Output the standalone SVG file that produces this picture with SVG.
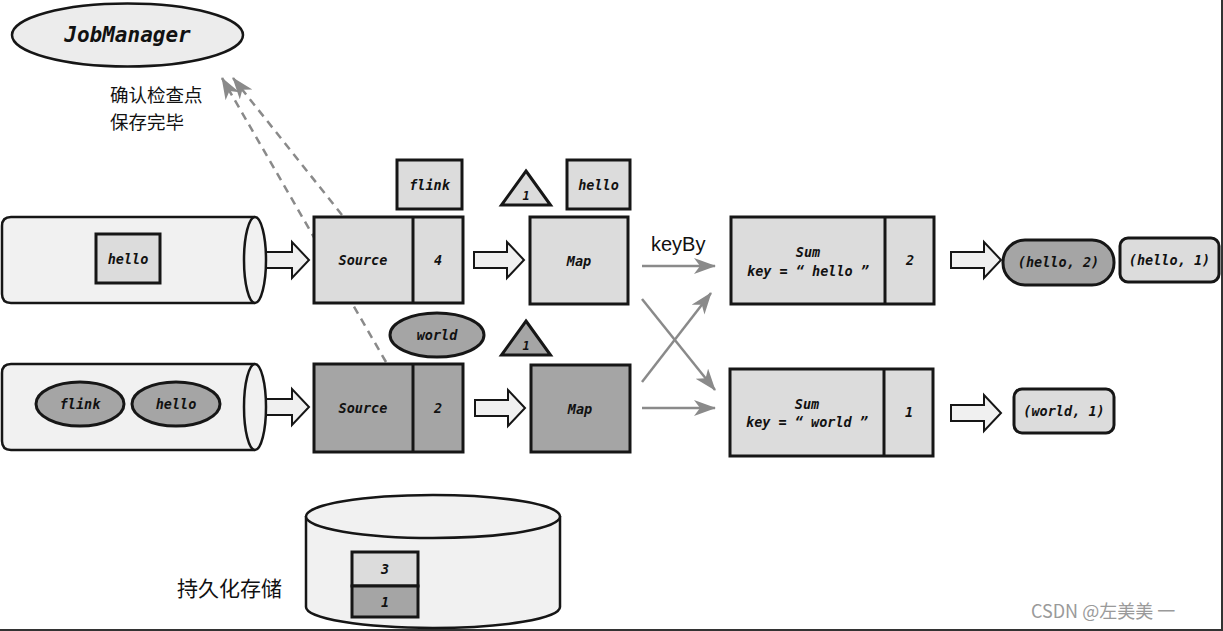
<svg xmlns="http://www.w3.org/2000/svg" width="1223" height="631" viewBox="0 0 1223 631">
<style>
.t{font-family:"DejaVu Sans Mono","Liberation Mono",monospace;font-style:italic;font-weight:bold;font-size:13.5px;fill:#111;text-anchor:middle;dominant-baseline:central}
.cn{font-family:"Noto Sans CJK SC","Noto Sans",sans-serif;font-size:20px;fill:#111}
.lt{fill:#dcdcdc;stroke:#161616;stroke-width:3}
.dk{fill:#a5a5a5;stroke:#161616;stroke-width:3}
.cyl{fill:#f1f1f1;stroke:#161616;stroke-width:2.5}
.ba{fill:#f0f0f0;stroke:#161616;stroke-width:2}
.ga{stroke:#8a8a8a;stroke-width:2.5;fill:none;marker-end:url(#gh)}
.da{stroke:#8a8a8a;stroke-width:2.5;fill:none;stroke-dasharray:8 6;marker-end:url(#gh)}
</style>
<defs>
<marker id="gh" markerUnits="userSpaceOnUse" markerWidth="24" markerHeight="18" refX="21" refY="8" orient="auto">
<path d="M0,0 L22,8 L0,16 L6,8 Z" fill="#8a8a8a"/>
</marker>
<path id="barrow" d="M0,-8 H33 V-18 L50,0 L33,18 V8 H0 Z"/>
</defs>

<g id="border">
<line x1="1222" y1="0" x2="1222" y2="631" stroke="#333" stroke-width="2"/>
<line x1="0" y1="630" x2="1223" y2="630" stroke="#333" stroke-width="2"/>
</g>

<g id="jobmanager">
<ellipse cx="127.5" cy="35" rx="115.5" ry="31.5" fill="#ececec" stroke="#161616" stroke-width="2.5"/>
<text class="t" x="127.5" y="35" style="font-size:21px">JobManager</text>
</g>
<g id="ack-label">
<text class="cn" x="110" y="102" style="font-size:18.5px">确认检查点</text>
<text class="cn" x="110" y="129" style="font-size:18.5px">保存完毕</text>
</g>

<g id="connectors">
<path class="da" d="M342,215 L233,78"/>
<path class="da" d="M386,362 L222,78"/>
<path class="ga" d="M642,266 H715"/>
<path class="ga" d="M642,299 L715,390"/>
<path class="ga" d="M642,382 L711,293"/>
<path class="ga" d="M642,408 H715"/>
<use href="#barrow" class="ba" transform="translate(259,260)"/>
<use href="#barrow" class="ba" transform="translate(259,407)"/>
<use href="#barrow" class="ba" transform="translate(474,260)"/>
<use href="#barrow" class="ba" transform="translate(475,408)"/>
<use href="#barrow" class="ba" transform="translate(951,260)"/>
<use href="#barrow" class="ba" transform="translate(951,413)"/>
</g>

<g id="input1">
<path class="cyl" d="M255,217 H11 Q2,217 2,226 V294 Q2,303 11,303 H255"/>
<ellipse class="cyl" cx="255" cy="260" rx="11" ry="43"/>
<rect class="lt" x="96" y="234" width="64" height="49"/>
<text class="t" x="128" y="258.5">hello</text>
</g>

<g id="input2">
<path class="cyl" d="M255,364 H11 Q2,364 2,373 V441 Q2,450 11,450 H255"/>
<ellipse class="cyl" cx="255" cy="407" rx="11" ry="43"/>
<ellipse class="dk" cx="80" cy="404" rx="44" ry="22" stroke-width="2.5"/>
<text class="t" x="80" y="404">flink</text>
<ellipse class="dk" cx="176" cy="404" rx="44" ry="22" stroke-width="2.5"/>
<text class="t" x="176" y="404">hello</text>
</g>

<g id="source1">
<rect class="lt" x="314" y="217" width="149" height="86"/>
<line x1="413" y1="217" x2="413" y2="303" stroke="#161616" stroke-width="3"/>
<text class="t" x="363" y="260">Source</text>
<text class="t" x="438" y="260">4</text>
</g>
<g id="source2">
<rect class="dk" x="314" y="364" width="149" height="88"/>
<line x1="413" y1="364" x2="413" y2="452" stroke="#161616" stroke-width="3"/>
<text class="t" x="363" y="408">Source</text>
<text class="t" x="438" y="408">2</text>
</g>

<g id="flink-record">
<rect class="lt" x="397" y="160" width="65" height="49"/>
<text class="t" x="429.5" y="184.5">flink</text>
</g>
<g id="world-record">
<ellipse class="dk" cx="437" cy="335" rx="47" ry="22" stroke-width="2.5"/>
<text class="t" x="437" y="335">world</text>
</g>

<g id="barrier1">
<path class="lt" d="M526,171 L550.5,205 L501.5,205 Z" stroke-width="2.5"/>
<text class="t" x="526" y="196" style="font-size:12px">1</text>
</g>
<g id="barrier2">
<path class="dk" d="M526,321 L550.5,355 L501.5,355 Z" stroke-width="2.5"/>
<text class="t" x="526" y="346" style="font-size:12px">1</text>
</g>

<g id="hello-record">
<rect class="lt" x="567" y="160" width="63" height="49"/>
<text class="t" x="598.5" y="184.5">hello</text>
</g>

<g id="map1">
<rect class="lt" x="530" y="217" width="98" height="87"/>
<text class="t" x="579" y="260.5">Map</text>
</g>
<g id="map2">
<rect class="dk" x="531" y="365" width="99" height="87"/>
<text class="t" x="580" y="409">Map</text>
</g>

<g id="keyby-label">
<text x="651" y="251" style="font-family:'Liberation Sans',Arial,sans-serif;font-size:20px;fill:#111">keyBy</text>
</g>

<g id="sum1">
<rect class="lt" x="731" y="217" width="203" height="87"/>
<line x1="885" y1="217" x2="885" y2="304" stroke="#161616" stroke-width="3"/>
<text class="t" x="808" y="252">Sum</text>
<text class="t" x="808" y="270.5">key = “ hello ”</text>
<text class="t" x="910" y="260">2</text>
</g>
<g id="sum2">
<rect class="lt" x="730" y="369" width="203" height="87"/>
<line x1="884" y1="369" x2="884" y2="456" stroke="#161616" stroke-width="3"/>
<text class="t" x="807" y="403.5">Sum</text>
<text class="t" x="807" y="422">key = “ world ”</text>
<text class="t" x="909" y="412">1</text>
</g>

<g id="out-hello2">
<rect class="dk" x="1003" y="240" width="111" height="45" rx="22" ry="22"/>
<text class="t" x="1058.5" y="262">(hello, 2)</text>
</g>
<g id="out-hello1">
<rect class="lt" x="1120" y="238" width="99" height="44" rx="8" ry="8"/>
<text class="t" x="1169.5" y="260">(hello, 1)</text>
</g>
<g id="out-world1">
<rect class="lt" x="1014" y="389" width="100" height="44" rx="8" ry="8"/>
<text class="t" x="1064" y="411">(world, 1)</text>
</g>

<g id="storage">
<path class="cyl" d="M306,516 V607 A127,21 0 0 0 560,607 V516"/>
<ellipse class="cyl" cx="433" cy="516.5" rx="127" ry="21.5"/>
<rect class="lt" x="352" y="552" width="66" height="34"/>
<text class="t" x="385" y="569">3</text>
<rect class="dk" x="352" y="586" width="66" height="31"/>
<text class="t" x="385" y="602">1</text>
</g>
<g id="storage-label">
<text class="cn" x="177" y="596" style="font-size:21px">持久化存储</text>
</g>

<g id="watermark">
<text x="1031" y="618" style="font-family:'Noto Sans CJK SC','Liberation Sans',sans-serif;font-size:18px;fill:#9a9a9a">CSDN @左美美 一</text>
</g>
</svg>
